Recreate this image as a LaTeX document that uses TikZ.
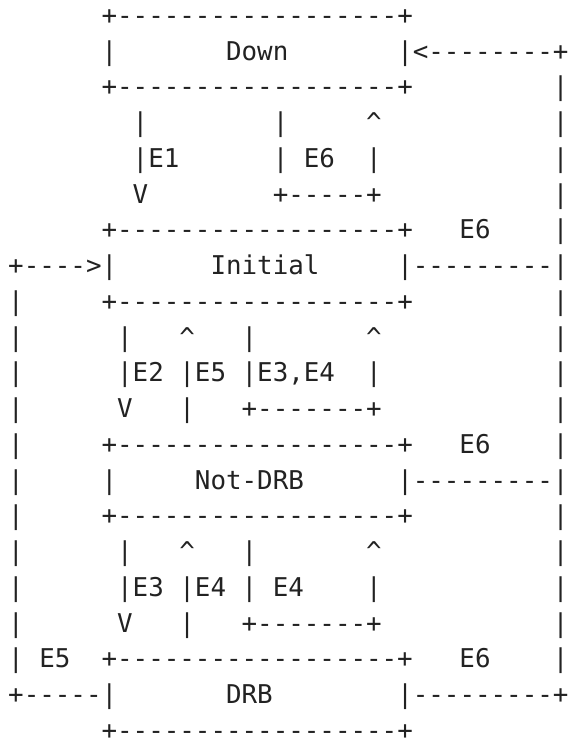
\documentclass[tikz,border=0pt]{standalone}
\usepackage{fontspec}
\setmonofont{DejaVu Sans Mono}
\definecolor{ink}{HTML}{222222}
\newcommand\cc{\textasciicircum}
\tikzset{
  asciirow/.style={anchor=base west, inner sep=0pt, outer sep=0pt, text=ink,
    font=\ttfamily\fontsize{25.85}{30}\selectfont\frenchspacing}
}
\newcommand\row[2]{\node[asciirow] (l#1) at (8.2,{716.5-35.75*#1}) {#2};}
\begin{document}
\begin{tikzpicture}[x=1pt,y=1pt]
\path[fill=white,use as bounding box] (0,0) rectangle (573,741);
\row{0}{~~~~~~+------------------+}
\row{1}{~~~~~~|~~~~~~~Down~~~~~~~|<--------+}
\row{2}{~~~~~~+------------------+~~~~~~~~~|}
\row{3}{~~~~~~~~|~~~~~~~~|~~~~~\cc~~~~~~~~~~~|}
\row{4}{~~~~~~~~|E1~~~~~~|~E6~~|~~~~~~~~~~~|}
\row{5}{~~~~~~~~V~~~~~~~~+-----+~~~~~~~~~~~|}
\row{6}{~~~~~~+------------------+~~~E6~~~~|}
\row{7}{+---->|~~~~~~Initial~~~~~|---------|}
\row{8}{|~~~~~+------------------+~~~~~~~~~|}
\row{9}{|~~~~~~|~~~\cc~~~|~~~~~~~\cc~~~~~~~~~~~|}
\row{10}{|~~~~~~|E2~|E5~|E3,E4~~|~~~~~~~~~~~|}
\row{11}{|~~~~~~V~~~|~~~+-------+~~~~~~~~~~~|}
\row{12}{|~~~~~+------------------+~~~E6~~~~|}
\row{13}{|~~~~~|~~~~~Not-DRB~~~~~~|---------|}
\row{14}{|~~~~~+------------------+~~~~~~~~~|}
\row{15}{|~~~~~~|~~~\cc~~~|~~~~~~~\cc~~~~~~~~~~~|}
\row{16}{|~~~~~~|E3~|E4~|~E4~~~~|~~~~~~~~~~~|}
\row{17}{|~~~~~~V~~~|~~~+-------+~~~~~~~~~~~|}
\row{18}{|~E5~~+------------------+~~~E6~~~~|}
\row{19}{+-----|~~~~~~~DRB~~~~~~~~|---------+}
\row{20}{~~~~~~+------------------+}
\end{tikzpicture}
\end{document}
